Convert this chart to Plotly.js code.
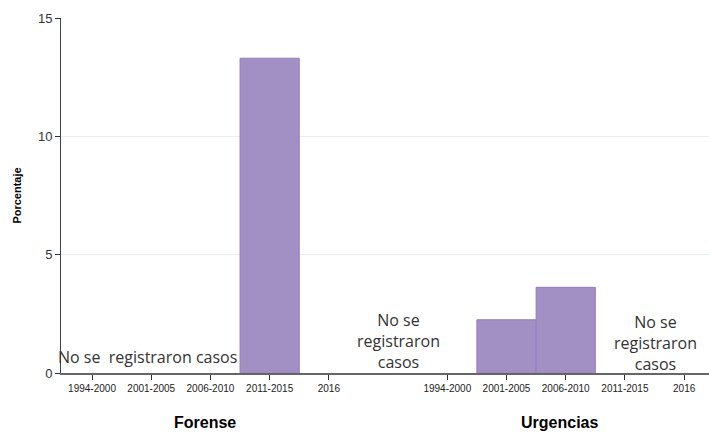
<!DOCTYPE html>
<html>
<head>
<meta charset="utf-8">
<script src="https://cdn.plot.ly/plotly-3.0.1.min.js"></script>
<style>html,body{margin:0;padding:0;background:#fff;}#chart{width:709px;height:434px;}</style>
</head>
<body>
<div id="chart"></div>
<script>
const periods = ['1994-2000', '2001-2005', '2006-2010', '2011-2015', '2016'];
const groups = ['Forense', 'Urgencias'];
const forenseValues = [null, null, null, 13.3, null];
const urgenciasValues = [null, 2.25, 3.62, null, null];
const noCasesText = ['No se  registraron casos', 'No se<br>registraron<br>casos', 'No se<br>registraron<br>casos'];

const groupSeries = [forenseValues, urgenciasValues];
const slot = periods.length + 1;

const xs = [], ys = [], tickvals = [], ticktext = [];
groupSeries.forEach((vals, g) => {
  vals.forEach((v, i) => {
    const x = g * slot + i;
    tickvals.push(x); ticktext.push(periods[i]);
    if (v !== null) { xs.push(x); ys.push(v); }
  });
});

const fill = 'rgb(162,143,196)';
const edge = 'rgb(148,126,190)';

const trace = {
  type: 'bar', x: xs, y: ys, width: 1,
  marker: {color: fill, line: {color: edge, width: 1}},
  hoverinfo: 'skip', showlegend: false
};

const noteFont = {family: 'Open Sans, sans-serif', size: 16, color: '#333'};
const annotations = [
  {x: 0.93, y: 0.68, xref: 'x', yref: 'y', text: noCasesText[0], showarrow: false, font: noteFont},
  {x: 5.17, y: 1.36, xref: 'x', yref: 'y', text: noCasesText[1], showarrow: false, font: noteFont},
  {x: 9.51, y: 1.27, xref: 'x', yref: 'y', text: noCasesText[2], showarrow: false, font: noteFont, align: 'center'}
];
groups.forEach((gname, g) => {
  annotations.push({x: g * slot + 1.9, y: -0.14, xref: 'x', yref: 'paper', yanchor: 'middle',
    text: '<b>' + gname + '</b>', showarrow: false,
    font: {family: 'Arial, Liberation Sans, sans-serif', size: 16, color: '#000'}});
});

const layout = {
  width: 709, height: 434,
  margin: {l: 61, r: 0, t: 18, b: 61},
  paper_bgcolor: '#fff', plot_bgcolor: '#fff',
  bargap: 0,
  xaxis: {
    range: [-0.524, 10.42], tickvals: tickvals, ticktext: ticktext,
    showgrid: false, zeroline: false, showline: true, linecolor: '#666', linewidth: 1.5,
    ticks: 'outside', ticklen: 5, tickcolor: '#333', tickwidth: 1,
    tickfont: {family: 'Arial, Liberation Sans, sans-serif', size: 10, color: '#222'},
    tickangle: 0
  },
  yaxis: {
    range: [0, 15], tickvals: [0, 5, 10, 15],
    showgrid: true, gridcolor: '#e8eef2', gridwidth: 1, zeroline: false,
    showline: true, linecolor: '#444', linewidth: 1,
    ticks: 'outside', ticklen: 5, tickcolor: '#333',
    tickfont: {family: 'Arial, Liberation Sans, sans-serif', size: 13, color: '#333'},
    title: {text: '<b>Porcentaje</b>', font: {family: 'Arial, Liberation Sans, sans-serif', size: 11, color: '#000'}, standoff: 14}
  },
  annotations: annotations
};

Plotly.newPlot('chart', [trace], layout, {displayModeBar: false, staticPlot: true});
</script>
</body>
</html>
